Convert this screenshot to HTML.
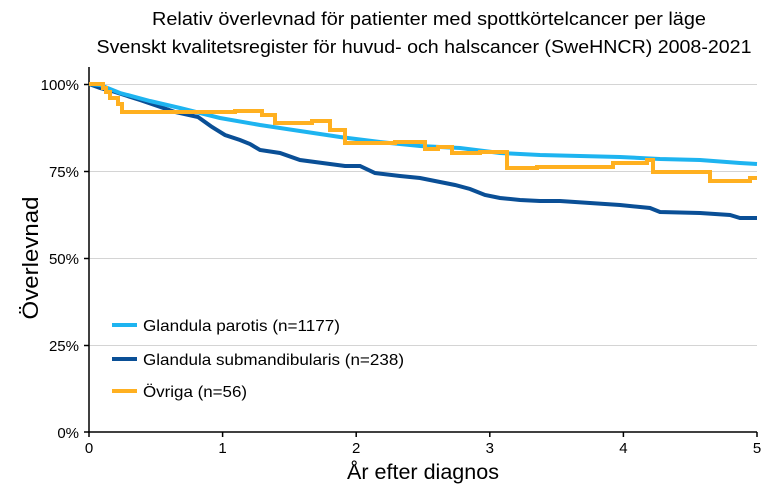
<!DOCTYPE html>
<html><head><meta charset="utf-8"><style>html,body{margin:0;padding:0;background:#fff}svg{display:block}</style></head>
<body>
<svg width="768" height="493" xmlns="http://www.w3.org/2000/svg" font-family="Liberation Sans, sans-serif">
<rect width="768" height="493" fill="#fff"/>
<text x="429" y="25" font-size="18" text-anchor="middle" textLength="554" lengthAdjust="spacingAndGlyphs">Relativ överlevnad för patienter med spottkörtelcancer per läge</text>
<text x="424" y="53" font-size="18" text-anchor="middle" textLength="655" lengthAdjust="spacingAndGlyphs">Svenskt kvalitetsregister för huvud- och halscancer (SweHNCR) 2008-2021</text>
<g stroke="#d4d4d4" stroke-width="1">
<line x1="89" y1="84.5" x2="757" y2="84.5"/><line x1="89" y1="171.5" x2="757" y2="171.5"/><line x1="89" y1="258.5" x2="757" y2="258.5"/><line x1="89" y1="345.5" x2="757" y2="345.5"/>
</g>
<g stroke="#000" stroke-width="1.5">
<line x1="89" y1="67" x2="89" y2="432"/><line x1="88" y1="432" x2="757" y2="432"/>
<line x1="84" y1="84.5" x2="89" y2="84.5"/><line x1="84" y1="171.5" x2="89" y2="171.5"/><line x1="84" y1="258.5" x2="89" y2="258.5"/><line x1="84" y1="345.5" x2="89" y2="345.5"/><line x1="84" y1="432" x2="89" y2="432"/>
<line x1="89" y1="432" x2="89" y2="437"/><line x1="222.6" y1="432" x2="222.6" y2="437"/><line x1="356.2" y1="432" x2="356.2" y2="437"/><line x1="489.8" y1="432" x2="489.8" y2="437"/><line x1="623.4" y1="432" x2="623.4" y2="437"/><line x1="757" y1="432" x2="757" y2="437"/>
</g>
<g font-size="15" text-anchor="end">
<text x="79" y="90">100%</text><text x="79" y="177">75%</text><text x="79" y="264">50%</text><text x="79" y="351">25%</text><text x="79" y="438">0%</text>
</g>
<g font-size="15" text-anchor="middle">
<text x="89" y="453">0</text><text x="222.6" y="453">1</text><text x="356.2" y="453">2</text><text x="489.8" y="453">3</text><text x="623.4" y="453">4</text><text x="757" y="453">5</text>
</g>
<text x="423" y="479" font-size="21" text-anchor="middle" textLength="152" lengthAdjust="spacingAndGlyphs">År efter diagnos</text>
<text transform="translate(38,258) rotate(-90)" font-size="22" text-anchor="middle" textLength="123" lengthAdjust="spacingAndGlyphs">Överlevnad</text>
<g fill="none" stroke-width="4" stroke-linejoin="miter">
<polyline stroke="#0A4F96" points="89,84 100,88 115,92 140,100 175,112 198,117 205,122 212,127 225,135 240,140 250,144 260,150 280,153 300,160 330,164 345,166 360,166 375,173 400,176 420,178 440,182 455,185 470,189 485,195 500,198 520,200 540,201 560,201 590,203 620,205 650,208 660,212 700,213 730,215 740,218 757,218"/>
<polyline stroke="#1EB4F0" points="89,84 100,85 120,93 150,101 180,108 220,118 260,125 300,131 340,137 380,142 420,146 460,148 500,153 540,155 580,156 620,157 660,159 700,160 740,163 757,164"/>
<polyline stroke="#FFB020" points="89,84 103,84 103,88 106,88 106,92 110,92 110,98 118,98 118,104 122,104 122,112 235,112 235,111 262,111 262,115 275,115 275,123 312,123 312,121 330,121 330,130 345,130 345,143 395,143 395,142 425,142 425,149 438,149 438,147 452,147 452,153 480,153 480,152 507,152 507,168 537,168 537,167 613,167 613,163 647,163 647,160 653,160 653,172 710,172 710,181 750,181 750,178 757,178"/>
</g>
<g stroke-width="4">
<line x1="112" y1="325" x2="137" y2="325" stroke="#1EB4F0"/>
<line x1="112" y1="359" x2="137" y2="359" stroke="#0A4F96"/>
<line x1="112" y1="391" x2="137" y2="391" stroke="#FFB020"/>
</g>
<g font-size="16">
<text x="143" y="331" textLength="197" lengthAdjust="spacingAndGlyphs">Glandula parotis (n=1177)</text>
<text x="143" y="365" textLength="261" lengthAdjust="spacingAndGlyphs">Glandula submandibularis (n=238)</text>
<text x="143" y="397" textLength="104" lengthAdjust="spacingAndGlyphs">Övriga (n=56)</text>
</g>
</svg>
</body></html>
